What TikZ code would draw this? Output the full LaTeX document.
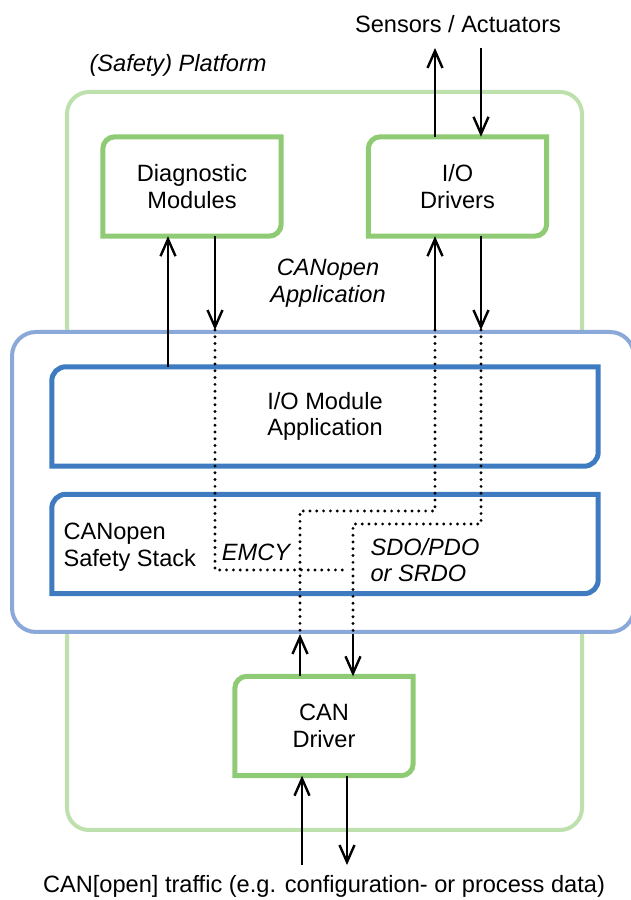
\documentclass[tikz,border=0pt]{standalone}
\usepackage{fontspec}
\setmainfont{Liberation Sans}
\usetikzlibrary{arrows.meta}

\definecolor{boxgreen}{RGB}{143,203,116}
\definecolor{platgreen}{RGB}{190,224,172}
\definecolor{stackblue}{RGB}{62,123,192}
\definecolor{paleblue}{RGB}{138,168,216}

% outline with only the top-left and bottom-right corners rounded
\newcommand{\cutbox}[3]{%
  \draw[#2, line width=5pt] (#1.south west) -- ([yshift=-#3]#1.north west)
    arc[start angle=180, end angle=90, radius=#3] -- (#1.north east)
    -- ([yshift=#3]#1.south east)
    arc[start angle=0, end angle=-90, radius=#3] -- cycle;}

\begin{document}
\begin{tikzpicture}[x=1pt, y=1pt,
  lbl/.style={font=\fontsize{23.6}{26.5}\selectfont, align=center},
  itl/.style={font=\fontsize{23.6}{26.5}\selectfont\itshape, align=center},
  gbox/.style={lbl, minimum width=178pt, minimum height=99pt, inner sep=0pt},
  bbox/.style={lbl, minimum width=546pt, minimum height=99pt, inner sep=0pt},
  flow/.style={-{Straight Barb[length=17pt, width=15pt]}, line width=2.4pt},
  dots/.style={line width=3.2pt, line cap=round, dash pattern=on 0pt off 6.8pt},
]
\useasboundingbox (0,0) rectangle (630,900);

% ---- platform frame ----
\draw[platgreen, line width=4pt, rounded corners=22pt] (67,70) rectangle (582,808);
\node[itl, anchor=west] (platlbl) at (86,835) {(Safety) Platform};

% ---- CANopen layer ----
\node[draw=paleblue, fill=white, line width=4pt, rounded corners=24pt,
      minimum width=622pt, minimum height=300pt] (canopen) at (323,418) {};
\node[itl] (applbl) at (328,617) {CANopen\\Application};

\node[bbox] (ioapp) at (325,483.5) {I/O Module\\Application};
\cutbox{ioapp}{stackblue}{14pt}
\node[bbox] (stack) at (325,356) {};
\cutbox{stack}{stackblue}{14pt}
\node[lbl, anchor=west, align=left] (stacklbl) at (60,353) {CANopen\\Safety Stack};
\node[itl] (emcy) at (256,348) {EMCY};
\node[itl, anchor=west, align=left] (sdo) at (367,340) {SDO/PDO\\or SRDO};

% ---- drivers and diagnostics ----
\node[gbox] (diag) at (192,713.5) {Diagnostic\\Modules};
\cutbox{diag}{boxgreen}{12pt}
\node[gbox] (iodrv) at (457.5,713.5) {I/O\\Drivers};
\cutbox{iodrv}{boxgreen}{12pt}
\node[gbox] (candrv) at (324,174) {CAN\\Driver};
\cutbox{candrv}{boxgreen}{12pt}

% ---- outside world ----
\node[lbl] (sensors) at (458,876) {Sensors / Actuators};
\node[lbl] (traffic) at (324,14) {CAN[open] traffic (e.g. configuration- or process data)};

% signal columns
\coordinate (dgup) at (168,0);
\coordinate (dgdn) at (215,0);
\coordinate (ioup) at (435,0);
\coordinate (iodn) at (481,0);
\coordinate (canup) at (300,0);
\coordinate (candn) at (353,0);
\coordinate (sa-out) at (435,852);
\coordinate (sa-in) at (481,852);
\coordinate (bus-in) at (302,35);
\coordinate (bus-out) at (347,35);
\coordinate (emcyend) at (347,330);
\coordinate (pdo-a) at (300,389);
\coordinate (pdo-b) at (353,376);

% solid arrows
\draw[flow] (dgup |- ioapp.north) -- (dgup |- diag.south);
\draw[flow] (dgdn |- diag.south) -- (dgdn |- canopen.north);
\draw[flow] (ioup |- canopen.north) -- (ioup |- iodrv.south);
\draw[flow] (iodn |- iodrv.south) -- (iodn |- canopen.north);
\draw[flow] (ioup |- iodrv.north) -- (sa-out);
\draw[flow] (sa-in) -- (iodn |- iodrv.north);
\draw[flow] (canup |- candrv.north) -- (canup |- canopen.south);
\draw[flow] (candn |- canopen.south) -- (candn |- candrv.north);
\draw[flow] (bus-in) -- (bus-in |- candrv.south);
\draw[flow] (bus-out |- candrv.south) -- (bus-out);

% dotted routes through the stack
\draw[dots] (dgdn |- canopen.north) |- (emcyend);
\draw[dots] (ioup |- canopen.north) |- (pdo-a) -- (canup |- canopen.south);
\draw[dots] (iodn |- canopen.north) |- (pdo-b) -- (candn |- canopen.south);

\end{tikzpicture}
\end{document}
